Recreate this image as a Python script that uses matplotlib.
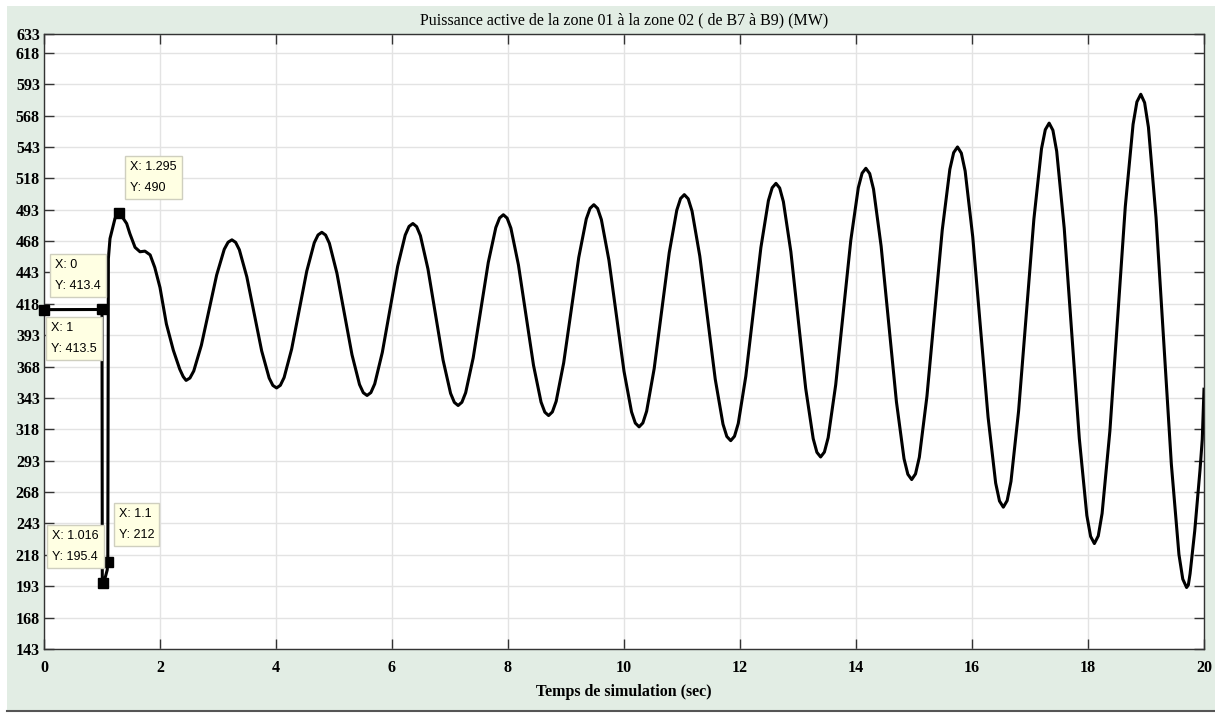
import matplotlib.pyplot as plt
from matplotlib.patches import Rectangle
from matplotlib.lines import Line2D

# trace: time (s) -> active power (MW)
t_start = [0, 1.0, 1.005, 1.016, 1.05, 1.09, 1.1, 1.11, 1.138, 1.224, 1.295,
           1.367, 1.425, 1.48, 1.57, 1.655, 1.74, 1.83, 1.91, 2.0, 2.11,
           2.23, 2.34, 2.40]
p_start = [413.4, 413.5, 200, 195.4, 199, 206, 212, 454, 470, 486, 490,
           486, 482, 474, 463, 459.5, 460, 457, 447, 431, 402,
           381, 366, 360]

t_osc = [2.45, 2.516, 2.582, 2.713, 2.845, 2.977, 3.108, 3.174,
         3.24, 3.304, 3.368, 3.497, 3.625, 3.753, 3.882, 3.946,
         4.01, 4.075, 4.14, 4.27, 4.40, 4.53, 4.66, 4.725,
         4.79, 4.855, 4.92, 5.05, 5.18, 5.31, 5.44, 5.505,
         5.57, 5.636, 5.702, 5.833, 5.965, 6.097, 6.228, 6.294,
         6.36, 6.425, 6.49, 6.62, 6.75, 6.88, 7.01, 7.075,
         7.14, 7.205, 7.27, 7.40, 7.53, 7.66, 7.79, 7.855,
         7.92, 7.985, 8.05, 8.18, 8.31, 8.44, 8.57, 8.635,
         8.70, 8.765, 8.83, 8.96, 9.09, 9.22, 9.35, 9.415,
         9.48, 9.545, 9.61, 9.74, 9.87, 10.00, 10.13, 10.195,
         10.26, 10.325, 10.39, 10.52, 10.65, 10.78, 10.91, 10.975,
         11.04, 11.107, 11.173, 11.307, 11.44, 11.573, 11.707, 11.773,
         11.84, 11.905, 11.97, 12.10, 12.23, 12.36, 12.49, 12.555,
         12.62, 12.684, 12.748, 12.877, 13.005, 13.133, 13.262, 13.326,
         13.39, 13.455, 13.52, 13.65, 13.78, 13.91, 14.04, 14.105,
         14.17, 14.236, 14.302, 14.433, 14.565, 14.697, 14.828, 14.894,
         14.96, 15.026, 15.092, 15.223, 15.355, 15.487, 15.618, 15.684,
         15.75, 15.816, 15.882, 16.013, 16.145, 16.277, 16.408, 16.474,
         16.54, 16.606, 16.672, 16.803, 16.935, 17.067, 17.198, 17.264,
         17.33, 17.395, 17.46, 17.59, 17.72, 17.85, 17.98, 18.045,
         18.11, 18.177, 18.243, 18.377, 18.51, 18.643, 18.777, 18.843,
         18.91, 18.976, 19.042, 19.173, 19.305, 19.437, 19.568, 19.634,
         19.70, 19.73, 19.76, 19.84, 19.93, 19.97, 20.0]
p_osc = [357, 358.9, 364.5, 385, 413, 441, 461.5, 467.1,
         469, 467.0, 461.1, 439.5, 410, 380.5, 358.9, 353.0,
         351, 353.1, 359.3, 382, 413, 444, 466.7, 472.9,
         475, 472.8, 466.3, 442.5, 410, 377.5, 353.7, 347.2,
         345, 347.3, 354.2, 379.3, 413.5, 447.8, 472.8, 479.7,
         482, 479.5, 472.3, 445.8, 409.5, 373.3, 346.7, 339.5,
         337, 339.6, 347.2, 375, 413, 451, 478.8, 486.4,
         489, 486.3, 478.3, 449, 409, 369, 339.7, 331.7,
         329, 331.9, 340.3, 371, 413, 455, 485.7, 494.1,
         497, 494.0, 485.1, 452.8, 408.5, 364.3, 331.9, 323.0,
         320, 323.1, 332.4, 366.3, 412.5, 458.8, 492.6, 501.9,
         505, 501.7, 491.9, 456, 407, 358, 322.1, 312.3,
         309, 312.5, 322.7, 360.3, 411.5, 462.8, 500.3, 510.5,
         514, 510.3, 499.4, 459.5, 405, 350.5, 310.6, 299.7,
         296, 299.9, 311.4, 353.5, 411, 468.5, 510.6, 522.1,
         526, 521.8, 509.4, 464, 402, 340, 294.6, 282.2,
         278, 282.5, 295.8, 344.3, 410.5, 476.8, 525.2, 538.5,
         543, 538.1, 523.8, 471.3, 399.5, 327.8, 275.2, 260.9,
         256, 261.2, 276.5, 332.5, 409, 485.5, 541.5, 556.8,
         562, 556.3, 539.6, 478.3, 394.5, 310.8, 249.4, 232.7,
         227, 233.1, 251, 316.5, 406, 495.5, 561, 578.9,
         585, 578.3, 558.7, 486.8, 388.5, 290.3, 218.3, 198.7,
         192, 194, 203, 237, 285, 310, 350]

# data tips shown on the figure
tip_x = [0, 1, 1.016, 1.1, 1.295]
tip_y = [413.4, 413.5, 195.4, 212, 490]
tip_offsets = [(6, 56), (-56, -8), (-56, 58), (6, 59), (6, 57)]

x_ticks = [0, 2, 4, 6, 8, 10, 12, 14, 16, 18, 20]
y_ticks = [143, 168, 193, 218, 243, 268, 293, 318, 343, 368, 393, 418,
           443, 468, 493, 518, 543, 568, 593, 618, 633]

W, H = 1215, 713
fig = plt.figure(figsize=(W / 100, H / 100), dpi=100, facecolor='white')
fig.patches.append(Rectangle((7 / W, 2 / H), 1 - 7 / W, 705 / H,
                             transform=fig.transFigure, facecolor='#e2ede4',
                             edgecolor='none', zorder=-10))
fig.lines.append(Line2D([7 / W, 1], [2 / H, 2 / H], transform=fig.transFigure,
                        color='#555555', lw=1.5))

ax = fig.add_axes([44 / W, 64 / H, 1160 / W, 615 / H])
ax.set_facecolor('white')

ax.plot(t_start + t_osc, p_start + p_osc, color='black', lw=2.2, zorder=3,
        solid_joinstyle='round')

ax.set_xlim(0, 20)
ax.set_ylim(143, 633)
ax.set_xticks(x_ticks)
ax.set_yticks(y_ticks)
ax.grid(True, color='#e3e3e3', lw=1.0)
ax.set_axisbelow(True)
ax.tick_params(axis='both', direction='in', length=7, width=1, color='#333333',
               top=True, right=True)
ax.tick_params(axis='x', pad=8)
ax.tick_params(axis='y', pad=3)
for lab in ax.get_xticklabels() + ax.get_yticklabels():
    lab.set_fontfamily('Liberation Serif')
    lab.set_fontweight('bold')
    lab.set_fontsize(11.5)
for s in ax.spines.values():
    s.set_color('#333333')
    s.set_linewidth(1)

ax.set_title('Puissance active de la zone 01 à la zone 02 ( de B7 à B9) (MW)',
             fontfamily='Liberation Serif', fontsize=11.5, pad=7)
ax.set_xlabel('Temps de simulation (sec)', fontfamily='Liberation Serif',
              fontweight='bold', fontsize=11.5, labelpad=6)

# data tips
ax.plot(tip_x, tip_y, 's', color='black', ms=6.5, zorder=5, clip_on=False)
for x, y, (dx, dy) in zip(tip_x, tip_y, tip_offsets):
    ax.annotate(f'X: {x:g}\nY: {y:g}', (x, y), xytext=(dx + 5, dy - 5),
                textcoords='offset pixels', ha='left', va='top',
                fontfamily='Liberation Sans', fontsize=9, linespacing=2.0,
                bbox=dict(boxstyle='square,pad=0.4', facecolor='#ffffe3',
                          edgecolor='#cfcfbf', lw=1), zorder=6)

fig.savefig('out.png', dpi=100, facecolor=fig.get_facecolor())
